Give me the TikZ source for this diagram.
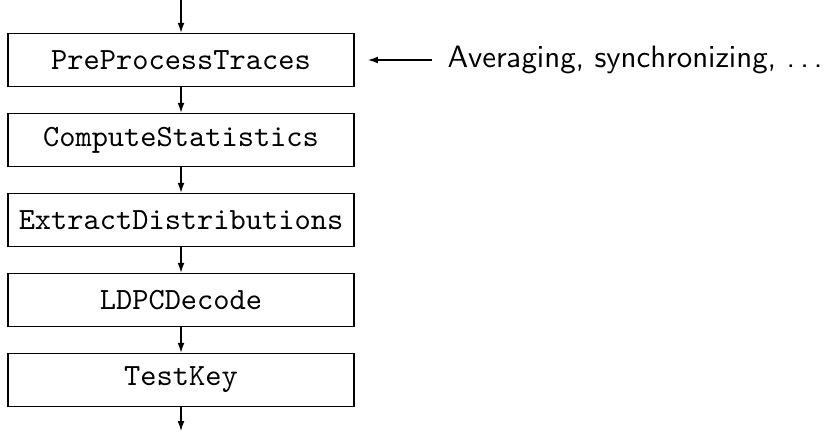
\documentclass[tikz,border=0pt]{standalone}
\usetikzlibrary{arrows.meta}
\begin{document}
\begin{tikzpicture}[x=0.3236pt, y=-0.3236pt,
  stage/.style={draw, line width=0.4pt, minimum width=112pt, minimum height=17.2pt,
    inner sep=0pt, font=\ttfamily},
  flow/.style={-{Latex[length=3.2pt,width=2.2pt]}, line width=0.4pt}]
  \useasboundingbox (0,0) rectangle (825,431);
  % processing stages, top to bottom
  \node[stage] (pre)  at (181,60)  {PreProcessTraces};
  \node[stage] (comp) at (181,140) {ComputeStatistics};
  \node[stage] (ext)  at (181,220) {ExtractDistributions};
  \node[stage] (ldpc) at (181,300) {LDPCDecode};
  \node[stage] (test) at (181,380) {TestKey};
  % open ends of the chain
  \coordinate (in)  at (181,0);
  \coordinate (out) at (181,431);
  \draw[flow] (in) -- (pre);
  \draw[flow] (pre) -- (comp);
  \draw[flow] (comp) -- (ext);
  \draw[flow] (ext) -- (ldpc);
  \draw[flow] (ldpc) -- (test);
  \draw[flow] (test) -- (out);
  % side note on preprocessing
  \node[anchor=west, inner sep=0pt, font=\fontencoding{OT1}\fontfamily{cmss}\selectfont]
    (note) at (447,60) {Averaging, synchronizing, \ldots};
  \coordinate (tip) at (368,60);
  \draw[flow, shorten <=4.9pt] (note.west) -- (tip);
\end{tikzpicture}
\end{document}
